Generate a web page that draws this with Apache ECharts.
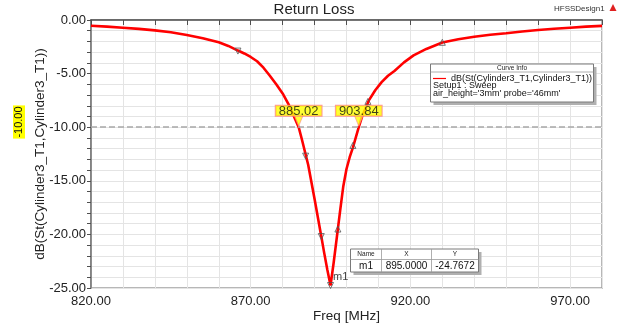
<!DOCTYPE html>
<html>
<head>
<meta charset="utf-8">
<script src="https://cdn.jsdelivr.net/npm/echarts@6/dist/echarts.min.js"></script>
<style>html,body{margin:0;padding:0;background:#fff}#c{width:628px;height:326px}</style>
</head>
<body>
<div id="c"></div>
<script>
// ---- data ----
var freqMHz = [820, 825, 830, 835, 840, 845, 850, 855, 860, 863, 866, 868, 870, 872, 874, 876, 878, 880, 882, 884, 885.02, 886, 888, 890, 892, 893, 894, 895, 896, 897, 898, 899, 900, 901, 902, 903.84, 905, 907, 909, 911, 913, 915, 918, 921, 925, 930, 935, 940, 945, 950, 955, 960, 965, 970, 975, 980];
var returnLossDb = [-0.53, -0.62, -0.72, -0.83, -0.97, -1.15, -1.40, -1.70, -2.08, -2.42, -2.85, -3.12, -3.45, -3.85, -4.45, -5.2, -6.0, -6.85, -7.95, -9.3, -10.0, -11.1, -13.5, -16.7, -20.0, -21.7, -23.3, -24.77, -22.6, -20.2, -17.8, -15.5, -13.9, -12.8, -11.9, -10.0, -8.9, -7.5, -6.55, -5.8, -5.2, -4.75, -3.95, -3.3, -2.7, -2.1, -1.8, -1.57, -1.38, -1.24, -1.08, -0.93, -0.82, -0.72, -0.62, -0.55];
var downSymFreq = [866, 887.2, 892.1];
var downSymDb = [-2.9, -12.7, -20.2];
var upSymFreq = [897.3, 902, 906.7, 930];
var upSymDb = [-19.5, -11.7, -7.6, -2.08];
var levelDb = -10;
var crossFreqs = [885.02, 903.84];
var crossLabels = ['885.02', '903.84'];
var m1Freq = 895.0;
var m1Db = -24.7672;
var m1Labels = ['m1', '895.0000', '-24.7672'];
var xLabelTicks = [820, 870, 920, 970];
var yLabelTicks = [0, -5, -10, -15, -20, -25];
var titleText = 'Return Loss';
var designText = 'HFSSDesign1';
var yName = 'dB(St(Cylinder3_T1,Cylinder3_T1))';
var xName = 'Freq [MHz]';
var legendLines = ['dB(St(Cylinder3_T1,Cylinder3_T1))', 'Setup1 : Sweep', "air_height='3mm' probe='46mm'"];

var FONT = 'Liberation Sans, Arial, sans-serif';
var chart = echarts.init(document.getElementById('c'), null, {renderer: 'canvas'});

var lineData = freqMHz.map(function (f, i) { return [f, returnLossDb[i]]; });
var downData = downSymFreq.map(function (f, i) { return [f, downSymDb[i]]; });
var upData = upSymFreq.map(function (f, i) { return [f, upSymDb[i]]; });

var option = {
  animation: false,
  backgroundColor: '#ffffff',
  textStyle: {fontFamily: FONT},
  title: [{
    text: titleText, left: 'center', top: -3,
    textStyle: {fontSize: 15, fontWeight: 'normal', color: '#222', fontFamily: FONT}
  }, {
    text: designText, left: 549, top: 0,
    textStyle: {fontSize: 8, fontWeight: 'normal', color: '#333', fontFamily: FONT}
  }],
  grid: {left: 91, right: 26, top: 20, bottom: 38, show: true, borderColor: '#a0a0a0', borderWidth: 1.5, containLabel: false, outerBoundsMode: 'none'},
  xAxis: {
    type: 'value', min: 820, max: 980, interval: 10,
    name: xName, nameLocation: 'middle', nameGap: 21, nameMoveOverlap: false,
    nameTextStyle: {fontSize: 13.5, color: '#222', fontFamily: FONT},
    axisLine: {show: true, lineStyle: {color: '#505050', width: 1.5}},
    axisTick: {show: true, length: 5, lineStyle: {color: '#505050'}},
    axisLabel: {
      fontSize: 13, color: '#222', margin: 7, fontFamily: FONT,
      formatter: function (v) { return xLabelTicks.indexOf(Math.round(v)) >= 0 ? v.toFixed(2) : ''; }
    },
    splitLine: {show: true, lineStyle: {color: '#e4e4e4', width: 1}}
  },
  yAxis: {
    type: 'value', min: -25, max: 0, interval: 1,
    name: yName, nameLocation: 'middle', nameGap: 44, nameRotate: 90, nameMoveOverlap: false,
    nameTextStyle: {fontSize: 13.5, color: '#222', fontFamily: FONT},
    axisLine: {show: true, lineStyle: {color: '#707070', width: 1.5}},
    axisTick: {show: true, length: 4, lineStyle: {color: '#505050'}},
    axisLabel: {
      fontSize: 13, color: '#222', margin: 5, fontFamily: FONT,
      formatter: function (v) { return yLabelTicks.indexOf(Math.round(v)) >= 0 && Math.abs(v - Math.round(v)) < 1e-6 ? v.toFixed(2) : ''; }
    },
    splitLine: {show: true, lineStyle: {color: '#e4e4e4', width: 1}}
  },
  series: [{
    type: 'line', data: lineData, showSymbol: false, symbol: 'none',
    lineStyle: {color: '#ff0000', width: 2.6}, itemStyle: {color: '#ff0000'}, z: 3,
    markLine: {
      silent: true, symbol: 'none', label: {show: false},
      lineStyle: {type: 'dashed', color: '#a8a8a8', width: 1.5},
      data: [{yAxis: levelDb}]
    }
  }, {
    type: 'scatter', data: downData, symbol: 'triangle', symbolRotate: 180, symbolSize: 6,
    itemStyle: {color: 'rgba(255,255,255,0)', borderColor: '#555', borderWidth: 1}, z: 4
  }, {
    type: 'scatter', data: upData, symbol: 'triangle', symbolSize: 6,
    itemStyle: {color: 'rgba(255,255,255,0)', borderColor: '#555', borderWidth: 1}, z: 4
  }, {
    type: 'scatter', symbol: 'triangle', symbolRotate: 180, symbolSize: [9, 11], symbolOffset: [0, -6.5],
    data: crossFreqs.map(function (f) { return [f, levelDb]; }),
    itemStyle: {color: '#ffff00', borderColor: '#ff8c8c', borderWidth: 0.8}, z: 6
  }, {
    type: 'scatter', symbol: 'circle', symbolSize: 1,
    data: crossFreqs.map(function (f, i) { return {value: [f, levelDb], name: crossLabels[i]}; }),
    itemStyle: {color: 'rgba(0,0,0,0)'},
    label: {
      show: true, position: 'top', distance: 11,
      formatter: function (p) { return p.name; },
      fontSize: 13, color: '#111', fontFamily: FONT,
      backgroundColor: '#ffff00', borderColor: '#ff8080', borderWidth: 1,
      padding: [0, 3, -1, 3], lineHeight: 11
    }, z: 7
  }, {
    type: 'scatter', symbol: 'triangle', symbolRotate: 180, symbolSize: 6,
    data: [{value: [m1Freq, m1Db], name: m1Labels[0]}],
    itemStyle: {color: 'rgba(255,255,255,0)', borderColor: '#555', borderWidth: 1},
    label: {show: true, position: 'right', offset: [-6, -9], formatter: function (p) { return p.name; }, fontSize: 11, color: '#111', fontFamily: FONT},
    z: 8
  }],
  graphic: []
};

var g = [];
g.push({type: 'text', x: 19, y: 122, rotation: Math.PI / 2, z: 20,
  style: {text: '-10.00', font: '11px ' + FONT, fill: '#111', align: 'center', verticalAlign: 'middle', backgroundColor: '#ffff00', padding: [1, 1, 0, 1]}});
g.push({type: 'rect', shape: {x: 433.5, y: 67, width: 163, height: 38}, style: {fill: '#b0b0b0'}, z: 20});
g.push({type: 'rect', shape: {x: 430.5, y: 64, width: 163, height: 38}, style: {fill: '#ffffff', stroke: '#7a7a7a', lineWidth: 1}, z: 21});
g.push({type: 'line', shape: {x1: 430.5, y1: 72, x2: 593.5, y2: 72}, style: {stroke: '#9a9a9a', lineWidth: 0.8}, z: 22});
g.push({type: 'text', x: 512, y: 68, z: 22, style: {text: 'Curve Info', font: '6.5px ' + FONT, fill: '#222', align: 'center', verticalAlign: 'middle'}});
g.push({type: 'line', shape: {x1: 433, y1: 78.5, x2: 446, y2: 78.5}, style: {stroke: '#ff0000', lineWidth: 1.2}, z: 22});
g.push({type: 'text', x: 451, y: 78.5, z: 22, style: {text: legendLines[0], font: '9px ' + FONT, fill: '#111', align: 'left', verticalAlign: 'middle'}});
g.push({type: 'text', x: 433, y: 86, z: 22, style: {text: legendLines[1], font: '9px ' + FONT, fill: '#111', align: 'left', verticalAlign: 'middle'}});
g.push({type: 'text', x: 433, y: 93.5, z: 22, style: {text: legendLines[2], font: '9px ' + FONT, fill: '#111', align: 'left', verticalAlign: 'middle'}});
g.push({type: 'rect', shape: {x: 353.5, y: 252, width: 128, height: 23}, style: {fill: '#b0b0b0'}, z: 20});
g.push({type: 'rect', shape: {x: 350.5, y: 249, width: 128, height: 23}, style: {fill: '#ffffff', stroke: '#7a7a7a', lineWidth: 1}, z: 21});
g.push({type: 'line', shape: {x1: 350.5, y1: 259.5, x2: 478.5, y2: 259.5}, style: {stroke: '#9a9a9a', lineWidth: 0.8}, z: 22});
g.push({type: 'line', shape: {x1: 381.5, y1: 249, x2: 381.5, y2: 272}, style: {stroke: '#9a9a9a', lineWidth: 0.8}, z: 22});
g.push({type: 'line', shape: {x1: 431.5, y1: 249, x2: 431.5, y2: 272}, style: {stroke: '#9a9a9a', lineWidth: 0.8}, z: 22});
var hdr = ['Name', 'X', 'Y'], cx = [366, 406.5, 455];
for (var i = 0; i < 3; i++) {
  g.push({type: 'text', x: cx[i], y: 254.5, z: 22, style: {text: hdr[i], font: '6.5px ' + FONT, fill: '#222', align: 'center', verticalAlign: 'middle'}});
  g.push({type: 'text', x: cx[i], y: 266, z: 22, style: {text: m1Labels[i], font: '10px ' + FONT, fill: '#111', align: 'center', verticalAlign: 'middle'}});
}
g.push({type: 'polygon', shape: {points: [[613, 4], [609.5, 11], [616.5, 11]]}, style: {fill: '#e02020'}, z: 20});
option.graphic = g;

chart.setOption(option);
</script>
</body>
</html>
